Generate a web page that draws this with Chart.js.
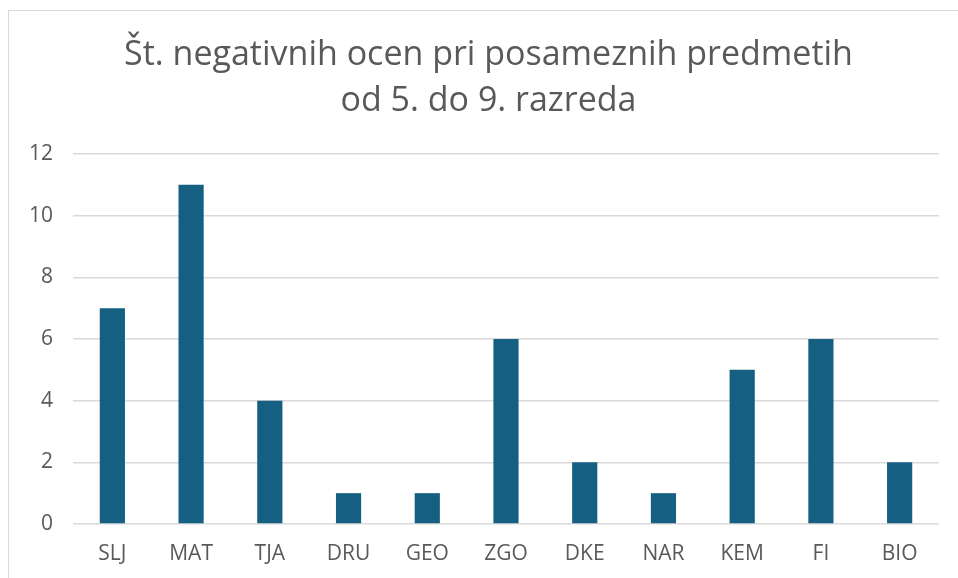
<!DOCTYPE html>
<html>
<head>
<meta charset="utf-8">
<script src="https://cdn.jsdelivr.net/npm/chart.js@4"></script>
<style>
  html, body { margin: 0; padding: 0; background: #fff; }
  #wrap { position: relative; width: 958px; height: 578px; overflow: hidden; }
  #frame { position: absolute; left: 8px; top: 10px; width: 1000px; height: 700px;
           border-top: 1px solid #d9d9d9; border-left: 1px solid #d9d9d9; }
  #title { position: absolute; left: 0; top: 28.5px; width: 977px; text-align: center;
           font-family: "Open Sans", "Noto Sans", sans-serif; font-size: 34px;
           line-height: 46px; color: #595959; }
  canvas { position: absolute; left: 0; top: 0; }
</style>
</head>
<body>
<div id="wrap">
  <div id="frame"></div>
  <canvas id="chart" width="958" height="578"></canvas>
  <div id="title"></div>
</div>
<script>
const subjects = ['SLJ', 'MAT', 'TJA', 'DRU', 'GEO', 'ZGO', 'DKE', 'NAR', 'KEM', 'FI', 'BIO'];
const negativeGrades = [7, 11, 4, 1, 1, 6, 2, 1, 5, 6, 2];
const titleLines = ['Št. negativnih ocen pri posameznih predmetih', 'od 5. do 9. razreda'];

const fontFamily = '"Open Sans", "Noto Sans", sans-serif';
const textColor = '#595959';

// title sits a bit right of the plot centre, so it is laid out as html text
titleLines.forEach(line => {
    const div = document.createElement('div');
    div.textContent = line;
    document.getElementById('title').appendChild(div);
});

const config = {
    type: 'bar',
    data: {
        labels: subjects,
        datasets: [{
            label: 'Št. negativnih ocen',
            data: negativeGrades,
            backgroundColor: '#156082',
            borderWidth: 0,
            categoryPercentage: 1,
            barPercentage: 0.32
        }]
    },
    options: {
        responsive: false,
        animation: false,
        layout: { padding: { left: 0, right: 19, top: 154, bottom: 0 } },
        plugins: {
            legend: { display: false },
            tooltip: { enabled: false },
            title: { display: false }
        },
        scales: {
            x: {
                grid: { display: false },
                border: { display: false },
                ticks: {
                    color: textColor,
                    font: { family: fontFamily, size: 21 },
                    padding: 9,
                    maxRotation: 0
                },
                afterFit: (scale) => { scale.height = 54; }
            },
            y: {
                min: 0,
                max: 12,
                ticks: {
                    stepSize: 2,
                    color: textColor,
                    font: { family: fontFamily, size: 21 },
                    padding: 20
                },
                grid: { color: '#d9d9d9', lineWidth: 1.5, drawTicks: false },
                border: { display: false },
                afterFit: (scale) => { scale.width = 73; }
            }
        }
    }
};

new Chart(document.getElementById('chart'), config);
</script>
</body>
</html>
